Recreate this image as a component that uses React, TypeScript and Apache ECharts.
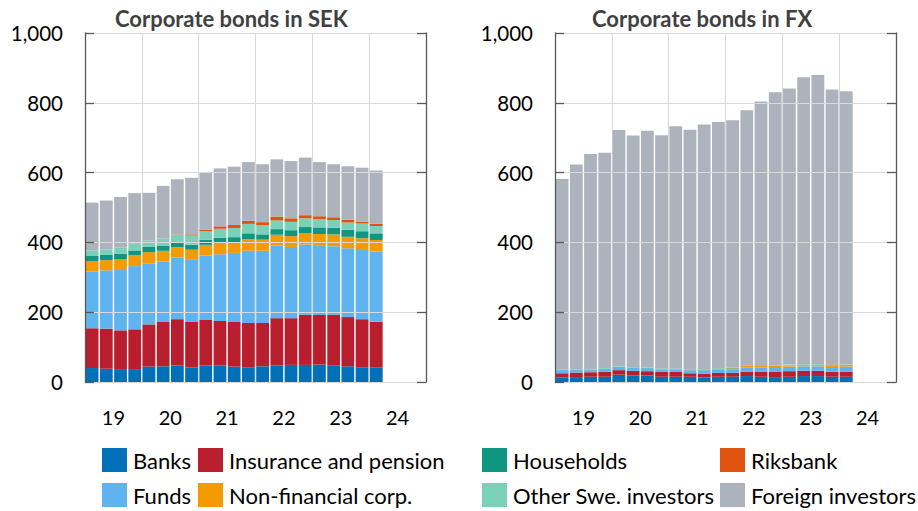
import React, { useEffect, useRef } from "react";
import * as echarts from "echarts";

const quarters = [
  "2019Q1", "2019Q2", "2019Q3", "2019Q4",
  "2020Q1", "2020Q2", "2020Q3", "2020Q4",
  "2021Q1", "2021Q2", "2021Q3", "2021Q4",
  "2022Q1", "2022Q2", "2022Q3", "2022Q4",
  "2023Q1", "2023Q2", "2023Q3", "2023Q4",
  "2024Q1", "2024Q2", "2024Q3", "2024Q4",
];
const yearLabels = ["19", "20", "21", "22", "23", "24"];

const seriesNames = [
  "Banks",
  "Insurance and pension",
  "Funds",
  "Non-financial corp.",
  "Households",
  "Other Swe. investors",
  "Riksbank",
  "Foreign investors",
];
const seriesColors = [
  "#0070b8",
  "#b81e2d",
  "#5fb4f0",
  "#f59a00",
  "#0f9680",
  "#7bd0b8",
  "#e0520f",
  "#adb3bc",
];

// Corporate bonds in SEK (SEK billion)
const sekBanks = [40, 38, 37, 37, 44, 45, 47, 42, 47, 47, 44, 41, 45, 47, 49, 49, 50, 48, 45, 41, 41];
const sekInsurance = [114, 115, 111, 114, 121, 127, 133, 130, 131, 128, 128, 128, 124, 136, 134, 144, 142, 145, 141, 139, 132];
const sekFunds = [163, 167, 173, 181, 174, 173, 177, 178, 184, 191, 198, 207, 207, 208, 204, 201, 198, 196, 197, 198, 201];
const sekNonFin = [29, 29, 30, 31, 33, 31, 29, 29, 31, 32, 30, 33, 32, 31, 31, 33, 34, 34, 33, 34, 33];
const sekHouseholds = [15, 15, 16, 14, 15, 15, 14, 14, 15, 15, 15, 17, 15, 16, 17, 17, 19, 19, 20, 20, 19];
const sekOtherSwe = [16, 16, 18, 19, 18, 20, 22, 27, 24, 26, 26, 27, 26, 25, 24, 25, 23, 22, 21, 22, 21];
const sekRiksbank = [0, 0, 0, 0, 0, 0, 1, 3, 5, 7, 9, 9, 9, 11, 10, 9, 9, 8, 8, 5, 6];
const sekForeign = [137, 140, 145, 145, 137, 151, 158, 162, 163, 166, 167, 168, 166, 164, 164, 165, 155, 152, 153, 155, 153];

// Corporate bonds in FX (SEK billion)
const fxBanks = [13, 14, 15, 15, 21, 19, 19, 15, 15, 15, 13, 15, 15, 17, 15, 14, 15, 17, 17, 15, 15];
const fxInsurance = [12, 13, 13, 14, 13, 13, 12, 14, 14, 10, 11, 11, 11, 13, 15, 16, 16, 15, 15, 14, 15];
const fxFunds = [9, 7, 6, 8, 8, 8, 8, 7, 7, 9, 10, 9, 9, 12, 12, 13, 13, 13, 13, 14, 14];
const fxNonFin = [0, 0, 0, 0, 0, 0, 0, 1, 1, 1, 1, 3, 4, 4, 5, 3, 2, 2, 2, 4, 4];
const fxHouseholds = [1, 1, 1, 1, 1, 1, 1, 1, 1, 1, 1, 1, 1, 1, 1, 1, 1, 1, 1, 1, 1];
const fxOtherSwe = [2, 2, 2, 2, 2, 2, 2, 1, 1, 1, 1, 1, 1, 1, 1, 1, 3, 3, 3, 1, 1];
const fxRiksbank = [0, 0, 0, 0, 0, 0, 0, 0, 0, 0, 0, 0, 0, 0, 0, 0, 0, 0, 0, 0, 0];
const fxForeign = [545, 586, 616, 617, 677, 663, 678, 668, 694, 686, 701, 705, 709, 731, 755, 782, 791, 822, 829, 789, 783];

const sekData = [sekBanks, sekInsurance, sekFunds, sekNonFin, sekHouseholds, sekOtherSwe, sekRiksbank, sekForeign];
const fxData = [fxBanks, fxInsurance, fxFunds, fxNonFin, fxHouseholds, fxOtherSwe, fxRiksbank, fxForeign];

const panelTitles = ["Corporate bonds in SEK", "Corporate bonds in FX"];

const yTicks = { min: 0, max: 1000, interval: 200 };

const FONT = "Lato, 'Liberation Sans', sans-serif";
const AXIS_DARK = "#595959";
const GRID_LIGHT = "#d9d9d9";

export default function App() {
  const ref = useRef<HTMLDivElement>(null);

  useEffect(() => {
    if (!ref.current) return;
    const chart = echarts.init(ref.current, undefined, { renderer: "svg" });

    const grids = [
      { left: 85, top: 33, width: 341, height: 349 },
      { left: 555, top: 33, width: 341, height: 349 },
    ];

    const xAxes: any[] = [];
    const yAxes: any[] = [];
    grids.forEach((_, g) => {
      xAxes.push({
        type: "category",
        gridIndex: g,
        position: "bottom",
        data: yearLabels,
        boundaryGap: true,
        axisLine: { show: true, lineStyle: { color: GRID_LIGHT, width: 1 } },
        axisTick: { show: false },
        axisLabel: { fontSize: 20, color: "#000", margin: 25, fontFamily: FONT },
        splitLine: { show: true, lineStyle: { color: GRID_LIGHT, width: 1 } },
      });
      xAxes.push({
        type: "category",
        gridIndex: g,
        position: "top",
        data: quarters,
        show: false,
      });
      yAxes.push({
        type: "value",
        gridIndex: g,
        position: "left",
        ...yTicks,
        z: 3,
        axisLine: { show: true, lineStyle: { color: AXIS_DARK, width: 1.3 } },
        axisTick: { show: true, inside: true, length: 9, lineStyle: { color: AXIS_DARK, width: 1.3 } },
        axisLabel: {
          fontSize: 20.5,
          color: "#000",
          margin: 22,
          fontFamily: FONT,
          formatter: (v: number) => v.toLocaleString("en-US"),
        },
        splitLine: { show: true, lineStyle: { color: GRID_LIGHT, width: 1 } },
      });
      yAxes.push({
        type: "value",
        gridIndex: g,
        position: "right",
        ...yTicks,
        z: 3,
        axisLine: { show: true, lineStyle: { color: AXIS_DARK, width: 1.3 } },
        axisTick: { show: true, inside: true, length: 9, lineStyle: { color: AXIS_DARK, width: 1.3 } },
        axisLabel: { show: false },
        splitLine: { show: false },
      });
    });

    const series: any[] = [];
    [sekData, fxData].forEach((panel, g) => {
      panel.forEach((values, i) => {
        series.push({
          type: "bar",
          name: seriesNames[i],
          xAxisIndex: g * 2 + 1,
          yAxisIndex: g * 2,
          stack: "panel" + g,
          barWidth: "90%",
          data: values,
          itemStyle: { color: seriesColors[i] },
          emphasis: { disabled: true },
        });
      });
    });

    const legendCols = [
      { left: 102, names: [seriesNames[0], seriesNames[2]] },
      { left: 198, names: [seriesNames[1], seriesNames[3]] },
      { left: 482, names: [seriesNames[4], seriesNames[5]] },
      { left: 720, names: [seriesNames[6], seriesNames[7]] },
    ];

    const titleStyle = { fontSize: 22, fontWeight: "bold", color: "#404040", fontFamily: FONT };

    chart.setOption({
      animation: false,
      title: [
        { text: panelTitles[0], left: 110, top: 2, textStyle: titleStyle },
        { text: panelTitles[1], left: 587, top: 2, textStyle: titleStyle },
      ],
      legend: legendCols.map((c) => ({
        orient: "vertical",
        left: c.left,
        top: 448,
        itemWidth: 25,
        itemHeight: 24,
        itemGap: 11,
        icon: "rect",
        selectedMode: false,
        padding: 0,
        data: c.names,
        itemStyle: { borderWidth: 0 },
        textStyle: { fontSize: 22, color: "#000", fontFamily: FONT, padding: [0, 0, 0, 1] },
      })),
      grid: grids,
      xAxis: xAxes,
      yAxis: yAxes,
      series,
    });

    return () => chart.dispose();
  }, []);

  return (
    <div
      ref={ref}
      style={{ position: "fixed", left: 0, top: 0, width: 918, height: 511, background: "#fff" }}
    />
  );
}
